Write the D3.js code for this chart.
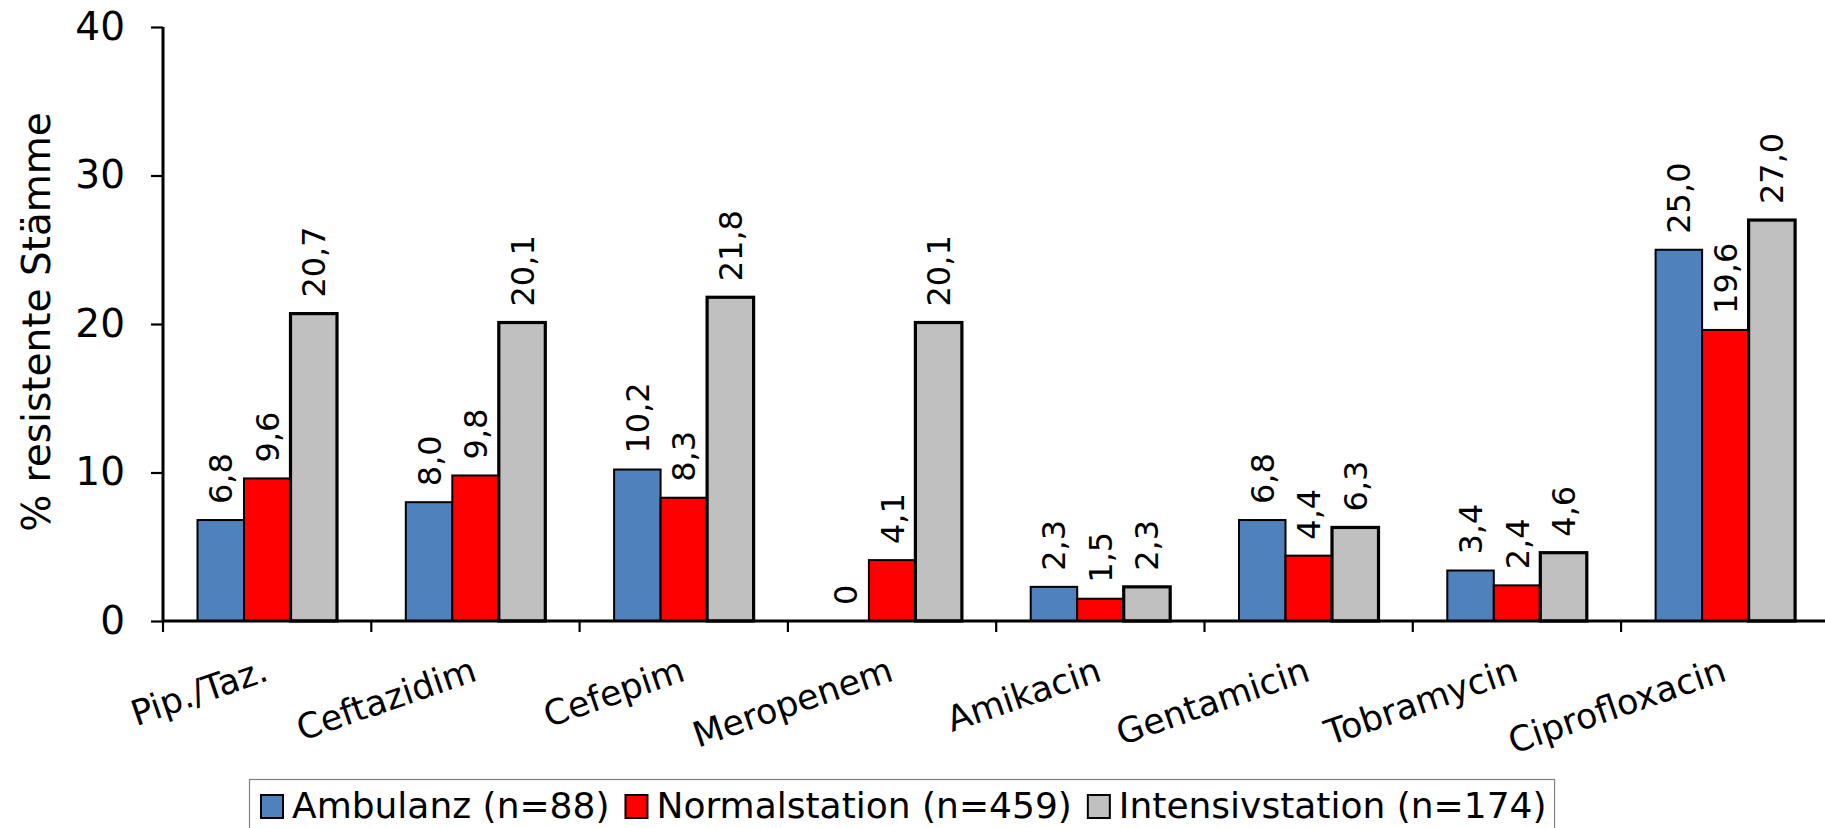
<!DOCTYPE html>
<html lang="de">

<head>
    <meta charset="UTF-8">
    <title>Resistenz nach Station</title>
    <style>
        body {
            margin: 0;
            padding: 0;
            background-color: #fff;
            font-family: 'DejaVu Sans', Verdana, sans-serif;
        }

        svg text {
            fill: #000;
        }
    </style>
</head>

<body>
<div id="chart"></div>

<script src="https://d3js.org/d3.v7.min.js"></script>
<script>
    const categories = ["Pip./Taz.", "Ceftazidim", "Cefepim", "Meropenem", "Amikacin", "Gentamicin", "Tobramycin", "Ciprofloxacin"];
    const seriesNames = ["Ambulanz (n=88)", "Normalstation (n=459)", "Intensivstation (n=174)"];
    const ambulanz = [6.8, 8.0, 10.2, 0, 2.3, 6.8, 3.4, 25.0];
    const normalstation = [9.6, 9.8, 8.3, 4.1, 1.5, 4.4, 2.4, 19.6];
    const intensivstation = [20.7, 20.1, 21.8, 20.1, 2.3, 6.3, 4.6, 27.0];
    const yTicks = [0, 10, 20, 30, 40];
    const colors = ["#4f81bd", "#ff0000", "#c0c0c0"];

    const width = 1825;
    const height = 828;
    const plotLeft = 163;
    const bandWidth = 208.3;

    const seriesValues = [ambulanz, normalstation, intensivstation];

    const svg = d3.select("#chart")
        .append("svg")
        .attr("width", width)
        .attr("height", height);

    const x0 = d3.scaleBand()
        .domain(categories)
        .range([plotLeft, plotLeft + bandWidth * categories.length]);

    // bars sit in the middle two thirds of each category
    const x1 = d3.scaleBand()
        .domain(d3.range(seriesNames.length))
        .range([34.5, bandWidth - 34.3]);

    const y = d3.scaleLinear()
        .domain([0, 40])
        .range([621, 27]);

    function fmt(v) {
        return v === 0 ? "0" : v.toFixed(1).replace(".", ",");
    }

    // rows: one per category, three values each
    const rows = categories.map(function (c, i) {
        return seriesValues.map(function (s, k) {
            return {cat: c, k: k, value: s[i]};
        });
    });

    const groups = svg.append("g")
        .selectAll("g")
        .data(rows)
        .enter().append("g")
        .attr("transform", function (d) {
            return "translate(" + x0(d[0].cat) + ",0)";
        });

    groups.selectAll("rect")
        .data(function (d) {
            return d.filter(function (e) {
                return e.value > 0;
            });
        })
        .enter().append("rect")
        .attr("x", function (d) {
            return x1(d.k);
        })
        .attr("y", function (d) {
            return y(d.value);
        })
        .attr("width", x1.bandwidth())
        .attr("height", function (d) {
            return y(0) - y(d.value);
        })
        .attr("fill", function (d) {
            return colors[d.k];
        })
        .attr("stroke", "#000")
        .attr("stroke-width", function (d) {
            return d.k === 2 ? 3.2 : 2;
        });

    groups.selectAll("text")
        .data(function (d) {
            return d;
        })
        .enter().append("text")
        .attr("transform", function (d) {
            return "translate(" + (x1(d.k) + x1.bandwidth() / 2) + "," + (y(d.value) - 16) + ") rotate(-90)";
        })
        .attr("dy", "0.36em")
        .style("font-size", "32px")
        .text(function (d) {
            return fmt(d.value);
        });

    // y axis
    const yAxis = svg.append("g")
        .attr("transform", "translate(" + plotLeft + ",0)")
        .call(d3.axisLeft(y).tickValues(yTicks).tickSize(12).tickPadding(26));
    yAxis.select(".domain").attr("d", "M0," + y(40) + "V" + y(0)).attr("stroke-width", 3);
    yAxis.selectAll(".tick line").attr("stroke-width", 2.2);
    yAxis.selectAll(".tick text")
        .style("font-family", "'DejaVu Sans', sans-serif")
        .style("font-size", "39px");

    // x axis, ticks between the categories
    const xAxis = svg.append("g")
        .attr("transform", "translate(0," + y(0) + ")");
    xAxis.append("line")
        .attr("x1", plotLeft)
        .attr("x2", plotLeft + bandWidth * categories.length)
        .attr("stroke", "#000")
        .attr("stroke-width", 3);
    xAxis.selectAll("line.tk")
        .data(d3.range(categories.length + 1))
        .enter().append("line")
        .attr("class", "tk")
        .attr("x1", function (i) {
            return plotLeft + i * bandWidth;
        })
        .attr("x2", function (i) {
            return plotLeft + i * bandWidth;
        })
        .attr("y1", 0)
        .attr("y2", 11)
        .attr("stroke", "#000")
        .attr("stroke-width", 2.2);

    svg.append("g")
        .selectAll("text")
        .data(categories)
        .enter().append("text")
        .attr("transform", function (d) {
            return "translate(" + (x0(d) + bandWidth / 2 + 3) + ",680) rotate(-19)";
        })
        .attr("text-anchor", "end")
        .style("font-size", "35px")
        .text(function (d) {
            return d;
        });

    svg.append("text")
        .attr("transform", "translate(50,322) rotate(-90)")
        .attr("text-anchor", "middle")
        .style("font-size", "39px")
        .text("% resistente Stämme");

    // legend
    const legend = svg.append("g");
    const legendBox = legend.append("rect")
        .attr("x", 249.5)
        .attr("y", 779.5)
        .attr("height", 70)
        .attr("fill", "#fff")
        .attr("stroke", "#808080")
        .attr("stroke-width", 1.2);

    let lx = 261;
    seriesNames.forEach(function (name, k) {
        legend.append("rect")
            .attr("x", lx)
            .attr("y", 795)
            .attr("width", 22)
            .attr("height", 23)
            .attr("fill", colors[k])
            .attr("stroke", "#000")
            .attr("stroke-width", 2);
        const t = legend.append("text")
            .attr("x", lx + 31)
            .attr("y", 818)
            .style("font-size", "36px")
            .text(name);
        lx += 31 + t.node().getComputedTextLength() + 16;
    });
    legendBox.attr("width", lx - 16 + 8 - 249.5);
</script>
</body>

</html>
